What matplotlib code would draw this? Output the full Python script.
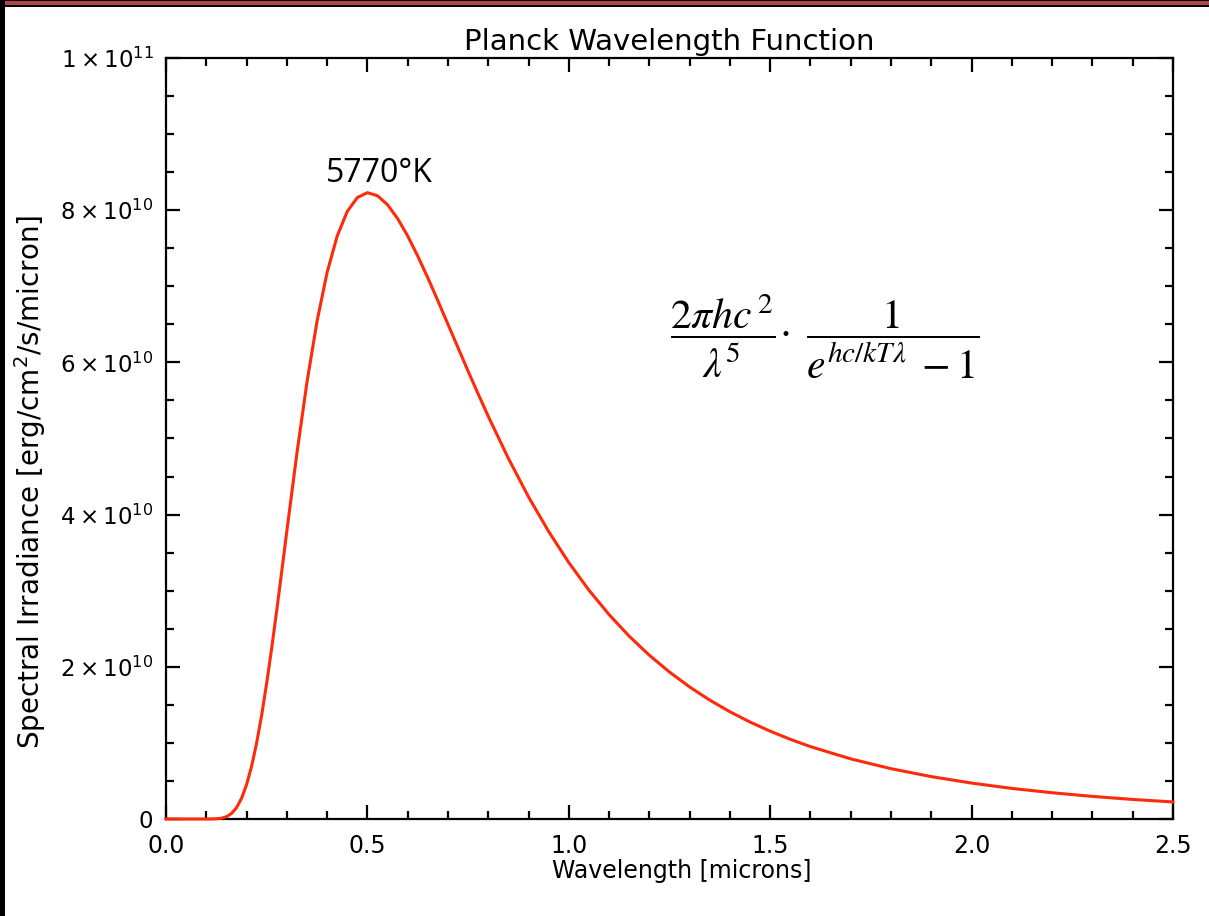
import matplotlib
matplotlib.use('Agg')
import matplotlib.pyplot as plt
from matplotlib.ticker import MultipleLocator, FixedLocator
from matplotlib.patches import Rectangle

# wavelength [microns] and spectral irradiance [1e10 erg/cm^2/s/micron]
wavelength = [0.0, 0.05, 0.10, 0.1125, 0.125, 0.1375, 0.15, 0.1625, 0.175, 0.1875,
              0.20, 0.2125, 0.225, 0.2375, 0.25, 0.2625, 0.275, 0.2875, 0.30, 0.325,
              0.35, 0.375, 0.40, 0.425, 0.45, 0.475, 0.50, 0.525, 0.55, 0.575,
              0.60, 0.625, 0.65, 0.675, 0.70, 0.725, 0.75, 0.775, 0.80, 0.85,
              0.90, 0.95, 1.0, 1.05, 1.1, 1.15, 1.2, 1.25, 1.3, 1.35,
              1.4, 1.45, 1.5, 1.55, 1.6, 1.7, 1.8, 1.9, 2.0, 2.1,
              2.2, 2.3, 2.4, 2.5]
irradiance = [0.0, 0.0, 0.0001, 0.0005, 0.003, 0.010, 0.030, 0.072, 0.148, 0.271,
              0.450, 0.692, 0.998, 1.364, 1.786, 2.249, 2.745, 3.260, 3.783, 4.805,
              5.740, 6.541, 7.182, 7.660, 7.983, 8.166, 8.230, 8.190, 8.072, 7.890,
              7.662, 7.398, 7.111, 6.810, 6.501, 6.193, 5.885, 5.585, 5.292, 4.739,
              4.233, 3.778, 3.370, 3.007, 2.686, 2.402, 2.152, 1.931, 1.735, 1.562,
              1.409, 1.274, 1.154, 1.047, 0.951, 0.790, 0.661, 0.557, 0.472, 0.402,
              0.345, 0.297, 0.257, 0.224]

x_ticks = [0.0, 0.5, 1.0, 1.5, 2.0, 2.5]
x_labels = ['0.0', '0.5', '1.0', '1.5', '2.0', '2.5']
y_ticks = [0, 2, 4, 6, 8, 10]
y_labels = ['0', r'$2\times10^{10}$', r'$4\times10^{10}$', r'$6\times10^{10}$',
            r'$8\times10^{10}$', r'$1\times10^{11}$']

fig = plt.figure(figsize=(12.09, 9.16), dpi=100)
fig.patch.set_facecolor('white')
ax = fig.add_axes([0.1373, 0.1059, 0.8329, 0.8308])

ax.plot(wavelength, irradiance, color='#ff2a0a', linewidth=2.2,
        zorder=3, clip_on=False, solid_joinstyle='round')

ax.set_xlim(0, 2.5)
ax.set_ylim(0, 10)
ax.xaxis.set_major_locator(FixedLocator(x_ticks))
ax.xaxis.set_minor_locator(MultipleLocator(0.1))
ax.yaxis.set_major_locator(FixedLocator(y_ticks))
ax.yaxis.set_minor_locator(MultipleLocator(0.5))
ax.set_xticklabels(x_labels)
ax.set_yticklabels(y_labels)

ax.tick_params(which='both', direction='in', top=True, right=True,
               color='black', width=1.6)
ax.tick_params(which='major', length=10)
ax.tick_params(which='minor', length=6)
ax.tick_params(axis='x', which='major', labelsize=17, pad=11)
ax.tick_params(axis='y', which='major', labelsize=16.5, pad=9)
for lab in ax.get_yticklabels():
    lab.set_math_fontfamily('dejavusans')
for sp in ax.spines.values():
    sp.set_linewidth(1.6)

ax.set_title('Planck Wavelength Function', fontsize=21, pad=6)
ax.set_xlabel('Wavelength [microns]', fontsize=17)
ax.xaxis.set_label_coords(0.512, -0.052)
ax.set_ylabel(r'Spectral Irradiance [erg/cm$^2$/s/micron]', fontsize=20)
ax.yaxis.set_label_coords(-0.117, 0.443)

ax.text(0.53, 8.37, '5770\u00b0K', family='Open Sans', fontsize=23,
        ha='center', va='baseline')
ax.text(1.636, 6.34,
        r'$\dfrac{2\pi hc^{\,2}}{\lambda^5}\!\cdot\;\dfrac{1}{e^{hc/kT\lambda}\;-1}$',
        math_fontfamily='stix', fontsize=30, ha='center', va='center')

# dark frame strips along the top and left edges
fig.patches.append(Rectangle((0, 1 - 7 / 916), 1, 7 / 916, transform=fig.transFigure,
                             facecolor='black', edgecolor='none'))
fig.patches.append(Rectangle((0, 1 - 4.5 / 916), 1, 3 / 916, transform=fig.transFigure,
                             facecolor='#b04545', edgecolor='none'))
fig.patches.append(Rectangle((0, 0), 4.5 / 1209, 1, transform=fig.transFigure,
                             facecolor='black', edgecolor='none'))

fig.savefig('out.png', dpi=100, facecolor=fig.get_facecolor())
